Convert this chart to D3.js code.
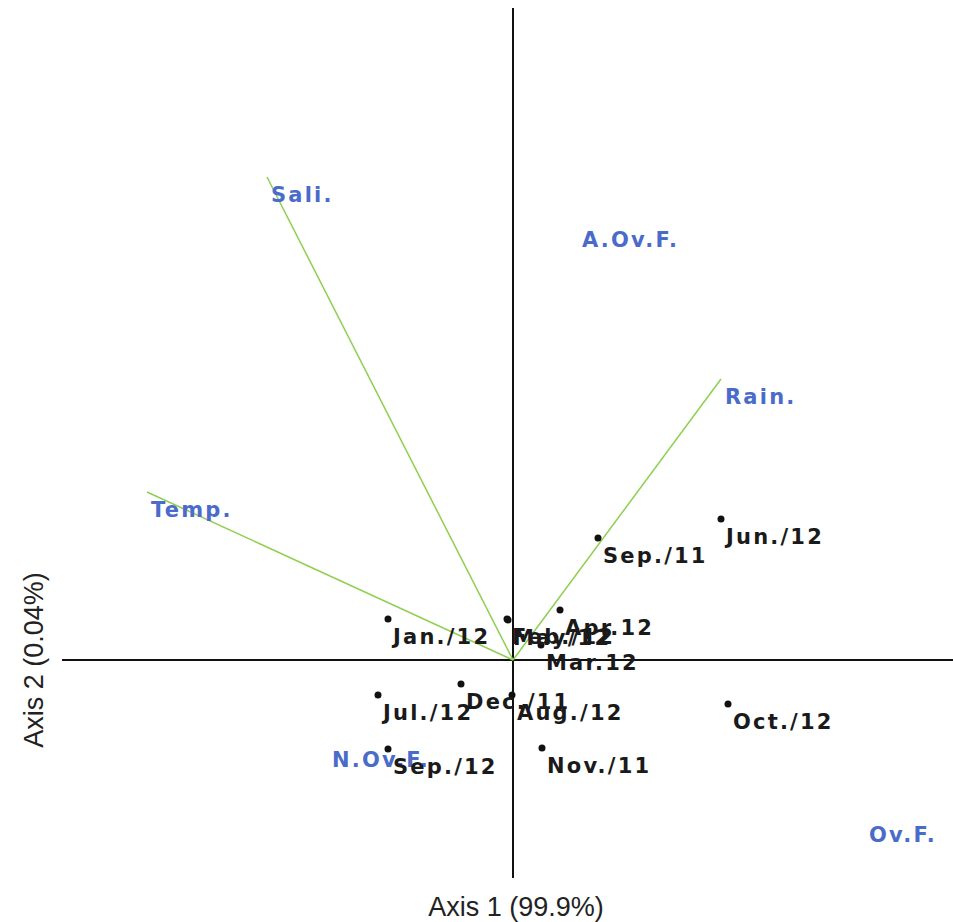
<!DOCTYPE html>
<html>
<head>
<meta charset="utf-8">
<script src="https://cdn.jsdelivr.net/npm/d3@7"></script>
<style>
  html, body { margin: 0; padding: 0; background: #fff; }
  svg { display: block; }
</style>
</head>
<body>
<svg id="chart" width="953" height="922"></svg>
<script>
// Sites (months) — axis 1, axis 2 scores
const siteNames = ["Sep./11", "Nov./11", "Dec./11", "Jan./12", "Feb./12", "Mar.12", "Apr.12", "May/12", "Jun./12", "Jul./12", "Aug./12", "Sep./12", "Oct./12"];
const siteAxis1 = [0.85, 0.29, -0.52, -1.25, -0.06, 0.28, 0.47, -0.05, 2.08, -1.35, -0.01, -1.25, 2.15];
const siteAxis2 = [1.22, -0.88, -0.24, 0.41, 0.41, 0.15, 0.50, 0.40, 1.41, -0.35, -0.35, -0.89, -0.44];

// Species (no markers)
const speciesNames = ["A.Ov.F.", "N.Ov.F.", "Ov.F."];
const speciesAxis1 = [0.65, -1.85, 3.52];
const speciesAxis2 = [4.38, -0.82, -1.57];

// Environmental vectors
const envNames = ["Sali.", "Temp.", "Rain."];
const envAxis1 = [-2.46, -3.66, 2.08];
const envAxis2 = [4.83, 1.68, 2.81];

const axisTitles = ["Axis 1 (99.9%)", "Axis 2 (0.04%)"];

const svg = d3.select("#chart");
const x = d3.scaleLinear().domain([-4.51, 4.40]).range([62, 953]);
const y = d3.scaleLinear().domain([-2.18, 6.52]).range([878, 8]);

const green = "#8fcf4f";
const blue = "#4a6bc9";
const labelFont = "'DejaVu Sans', sans-serif";
const fs = 21, ls = 2.2;

// axes cross lines
svg.append("line")
  .attr("x1", x(0)).attr("x2", x(0))
  .attr("y1", y.range()[1]).attr("y2", y.range()[0])
  .attr("stroke", "#111").attr("stroke-width", 2);
svg.append("line")
  .attr("x1", x.range()[0]).attr("x2", x.range()[1])
  .attr("y1", y(0)).attr("y2", y(0))
  .attr("stroke", "#111").attr("stroke-width", 2);

// env arrows
const env = envNames.map((n, i) => ({ name: n, a1: envAxis1[i], a2: envAxis2[i] }));
svg.selectAll(".env").data(env).join("line")
  .attr("x1", x(0)).attr("y1", y(0))
  .attr("x2", d => x(d.a1)).attr("y2", d => y(d.a2))
  .attr("stroke", green).attr("stroke-width", 1.5);

const dx = 4, dy = 25;

svg.selectAll(".envlab").data(env).join("text")
  .attr("x", d => x(d.a1) + dx).attr("y", d => y(d.a2) + dy)
  .attr("fill", blue)
  .attr("font-family", labelFont).attr("font-weight", "bold")
  .attr("font-size", fs).attr("letter-spacing", ls)
  .text(d => d.name);

// species labels
const species = speciesNames.map((n, i) => ({ name: n, a1: speciesAxis1[i], a2: speciesAxis2[i] }));
svg.selectAll(".splab").data(species).join("text")
  .attr("x", d => x(d.a1) + dx).attr("y", d => y(d.a2) + dy)
  .attr("fill", blue)
  .attr("font-family", labelFont).attr("font-weight", "bold")
  .attr("font-size", fs).attr("letter-spacing", ls)
  .text(d => d.name);

// sites
const sites = siteNames.map((n, i) => ({ name: n, a1: siteAxis1[i], a2: siteAxis2[i] }));
svg.selectAll(".site").data(sites).join("circle")
  .attr("cx", d => x(d.a1)).attr("cy", d => y(d.a2))
  .attr("r", 3.5).attr("fill", "#111");
svg.selectAll(".sitelab").data(sites).join("text")
  .attr("x", d => x(d.a1) + 5).attr("y", d => y(d.a2) + dy)
  .attr("fill", "#1a1a1a")
  .attr("font-family", labelFont).attr("font-weight", "bold")
  .attr("font-size", fs).attr("letter-spacing", ls)
  .text(d => d.name);

// axis titles
svg.append("text")
  .attr("x", x(0) + 3).attr("y", 916)
  .attr("text-anchor", "middle")
  .attr("font-family", "'Liberation Sans', Arial, sans-serif")
  .attr("font-size", 27).attr("fill", "#222")
  .text(axisTitles[0]);
svg.append("text")
  .attr("transform", `translate(43, ${y(0)}) rotate(-90)`)
  .attr("text-anchor", "middle")
  .attr("font-family", "'Liberation Sans', Arial, sans-serif")
  .attr("font-size", 27).attr("fill", "#222")
  .text(axisTitles[1]);
</script>
</body>
</html>
